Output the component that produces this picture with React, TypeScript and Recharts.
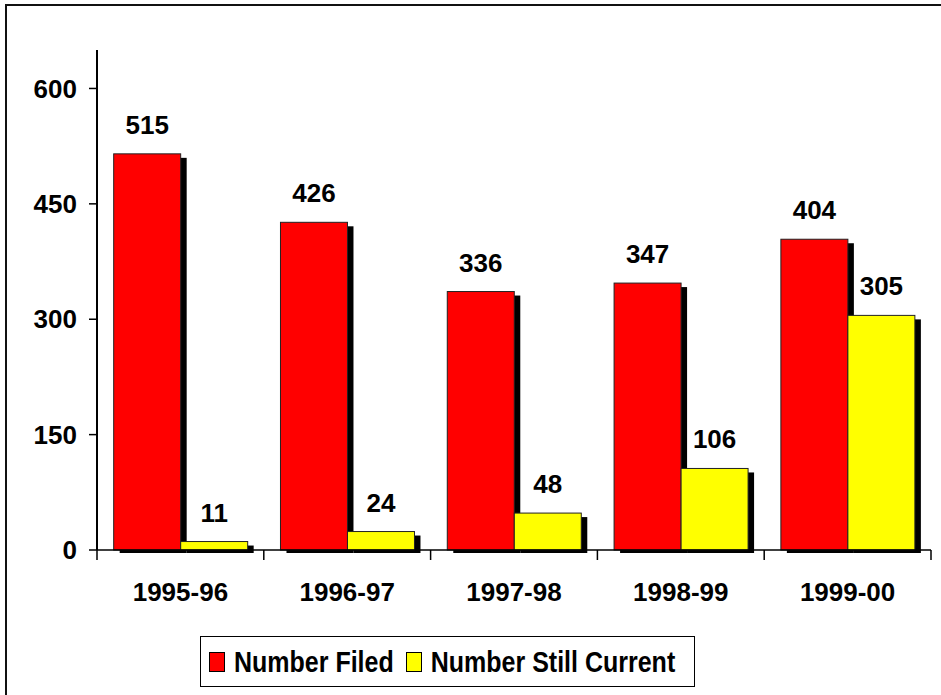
import React from "react";
import { BarChart, Bar, XAxis, YAxis, LabelList, Legend } from "recharts";

const years = ["1995-96", "1996-97", "1997-98", "1998-99", "1999-00"];
const filed = [515, 426, 336, 347, 404];
const stillCurrent = [11, 24, 48, 106, 305];
const yTicks = [0, 150, 300, 450, 600];

const data = years.map((year, i) => ({ year, filed: filed[i], current: stillCurrent[i] }));

const W = 941;
const H = 695;
const Y_AXIS_W = 97;
const RIGHT = 10;
const FONT = "'Liberation Sans', Arial, sans-serif";
const band = (W - Y_AXIS_W - RIGHT) / years.length;

function ShadowBar(props: any) {
  const { x, y, width, height, fill } = props;
  if (!height || height <= 0) return null;
  return (
    <g>
      <rect x={x + 6} y={y + 4} width={width} height={height - 1} fill="#000" />
      <rect x={x} y={y} width={width} height={height} fill={fill} stroke="#222" strokeWidth={1} />
    </g>
  );
}

function YearTick(props: any) {
  const { x, y, payload, index } = props;
  const left = x - band / 2;
  return (
    <g>
      <line x1={left} y1={y} x2={left} y2={y + 10} stroke="#000" strokeWidth={1.5} />
      {index === years.length - 1 && (
        <line x1={x + band / 2} y1={y} x2={x + band / 2} y2={y + 10} stroke="#000" strokeWidth={1.5} />
      )}
      <text x={x} y={y + 51} textAnchor="middle" fontFamily={FONT} fontWeight="bold" fontSize={26} fill="#000">
        {payload.value}
      </text>
    </g>
  );
}

function LegendBox() {
  const item = (color: string, label: string, gapAfter: number) => (
    <div style={{ display: "flex", alignItems: "center", marginRight: gapAfter }}>
      <span
        style={{
          display: "inline-block",
          width: 16,
          height: 20,
          boxSizing: "border-box",
          background: color,
          border: "1px solid #000",
          marginRight: 9,
        }}
      />
      <span style={{ display: "inline-block", transform: "scaleY(1.18)", whiteSpace: "nowrap" }}>{label}</span>
    </div>
  );
  return (
    <div
      style={{
        width: 495,
        height: 51,
        boxSizing: "border-box",
        border: "1px solid #000",
        display: "flex",
        alignItems: "center",
        paddingLeft: 8,
        fontFamily: FONT,
        fontWeight: "bold",
        fontSize: 25,
        color: "#000",
        background: "#fff",
      }}
    >
      {item("#ff0000", "Number Filed", 12)}
      {item("#ffff00", "Number Still Current", 0)}
    </div>
  );
}

export default function App() {
  return (
    <div style={{ position: "absolute", left: 0, top: 0, width: W, height: H, background: "#fff", overflow: "hidden" }}>
      <div
        style={{
          position: "absolute",
          left: 5,
          top: 4,
          width: 1200,
          height: 1000,
          border: "2px solid #111",
          pointerEvents: "none",
        }}
      />
      <BarChart
        width={W}
        height={H}
        data={data}
        margin={{ top: 50, right: RIGHT, bottom: 85, left: 0 }}
        barCategoryGap="10%"
        barGap={0}
      >
        <XAxis
          dataKey="year"
          height={60}
          tickSize={0}
          tickMargin={0}
          tickLine={false}
          axisLine={{ stroke: "#000", strokeWidth: 1.5 }}
          tick={<YearTick />}
          interval={0}
        />
        <YAxis
          width={Y_AXIS_W}
          domain={[0, 650]}
          ticks={yTicks}
          tickSize={8}
          tickMargin={12}
          axisLine={{ stroke: "#000", strokeWidth: 2 }}
          tickLine={{ stroke: "#000", strokeWidth: 1.5 }}
          tick={{ fill: "#000", fontFamily: FONT, fontWeight: "bold", fontSize: 26 }}
        />
        <Legend
          layout="horizontal"
          verticalAlign="middle"
          align="center"
          wrapperStyle={{ left: 200, top: 636, width: "auto", height: "auto" }}
          content={() => <LegendBox />}
        />
        <Bar dataKey="filed" name="Number Filed" fill="#ff0000" shape={ShadowBar} isAnimationActive={false}>
          <LabelList dataKey="filed" position="top" offset={20} fill="#000" fontFamily={FONT} fontWeight="bold" fontSize={26} />
        </Bar>
        <Bar dataKey="current" name="Number Still Current" fill="#ffff00" shape={ShadowBar} isAnimationActive={false}>
          <LabelList dataKey="current" position="top" offset={20} fill="#000" fontFamily={FONT} fontWeight="bold" fontSize={26} />
        </Bar>
      </BarChart>
    </div>
  );
}
